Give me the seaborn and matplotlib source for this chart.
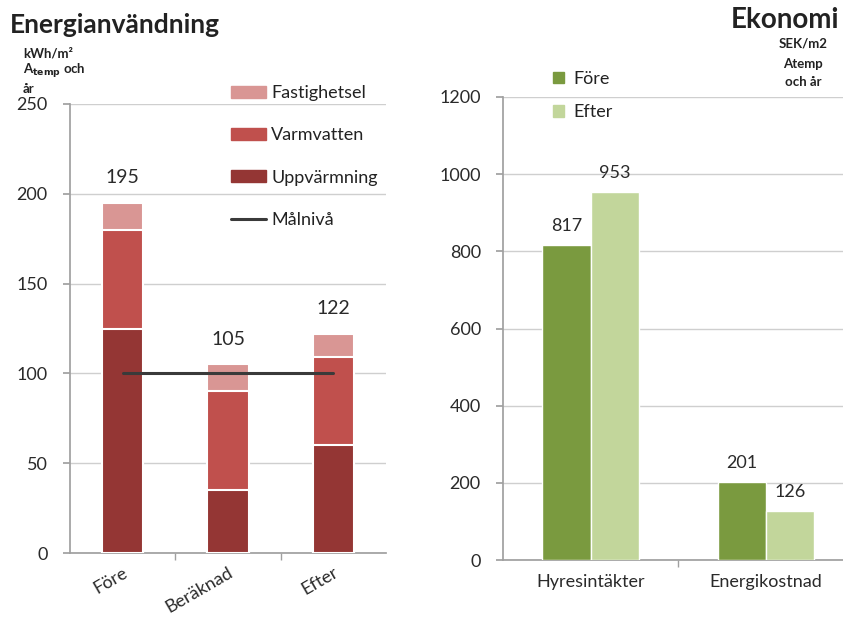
import numpy as np
import pandas as pd
import matplotlib.pyplot as plt
from matplotlib.patches import Patch
from matplotlib.lines import Line2D
import seaborn as sns

# Energianvändning (kWh/m2 Atemp och år)
kategorier = ['Före', 'Beräknad', 'Efter']
uppvarmning = [125, 35, 60]
varmvatten = [55, 55, 49]
fastighetsel = [15, 15, 13]
totalt = [195, 105, 122]
malniva = [100, 100, 100]

# Ekonomi (SEK/m2 Atemp och år)
poster = ['Hyresintäkter', 'Energikostnad']
fore = [817, 201]
efter = [953, 126]

sns.set_theme(style='white')
plt.rcParams['font.family'] = ['Lato', 'DejaVu Sans']
plt.rcParams['text.color'] = '#222222'

c_upp = '#943634'
c_varm = '#C0504D'
c_el = '#D99694'
c_fore = '#7A9A3F'
c_efter = '#C2D69B'
grid_c = '#cfcfcf'
spine_c = '#a0a0a0'
txt_c = '#2a2a2a'

fig = plt.figure(figsize=(8.43, 6.19), dpi=100)
ax1 = fig.add_axes([0.083, 0.1066, 0.375, 0.7254])
ax2 = fig.add_axes([0.5967, 0.0953, 0.4033, 0.748])

# stacked bars drawn back to front
tot_cum = np.array(uppvarmning) + np.array(varmvatten) + np.array(fastighetsel)
mid_cum = np.array(uppvarmning) + np.array(varmvatten)
for vals, col in [(tot_cum, c_el), (mid_cum, c_varm), (uppvarmning, c_upp)]:
    sns.barplot(x=kategorier, y=vals, color=col, saturation=1, width=0.39,
                edgecolor='white', linewidth=1.5, ax=ax1, zorder=3)
sns.lineplot(x=kategorier, y=malniva, color='#3a3a3a', linewidth=2.2, ax=ax1, zorder=4)

for i, v in enumerate(totalt):
    ax1.annotate(str(v), (i, v), xytext=(0, 12), textcoords='offset points',
                 ha='center', va='bottom', fontsize=14, color=txt_c)

ax1.set_ylim(0, 250)
ax1.set_xlim(-0.5, 2.5)
ax1.set_yticks(range(0, 251, 50))
ax1.yaxis.grid(True, color=grid_c, linewidth=1)
ax1.set_axisbelow(True)
ax1.set_xticks(range(3))
ax1.set_xticklabels(kategorier, rotation=30, ha='right', rotation_mode='anchor', fontsize=13)
ax1.set_xticks([0.5, 1.5], minor=True)
ax1.tick_params(axis='x', which='major', length=0, pad=8, labelcolor=txt_c)
ax1.tick_params(axis='x', which='minor', length=5, color=spine_c, direction='out', bottom=True)
ax1.tick_params(axis='y', length=5, color=spine_c, direction='out', left=True,
                labelsize=13, pad=11, labelcolor=txt_c)
ax1.set_xlabel('')
ax1.set_ylabel('')
for s in ['top', 'right']:
    ax1.spines[s].set_visible(False)
for s in ['left', 'bottom']:
    ax1.spines[s].set_color(spine_c)

h1 = [Patch(color=c_el), Patch(color=c_varm), Patch(color=c_upp),
      Line2D([0], [0], color='#3a3a3a', linewidth=2.2)]
l1 = ['Fastighetsel', 'Varmvatten', 'Uppvärmning', 'Målnivå']
fig.legend(h1, l1, loc='upper left', bbox_to_anchor=(0.266, 0.874), frameon=False,
           fontsize=13, labelspacing=1.45, handlelength=1.9, handleheight=0.6,
           handletextpad=0.3, borderaxespad=0)

fig.text(0.012, 0.96, 'Energianvändning', fontsize=19, fontweight='bold', va='center')
fig.text(0.027, 0.914, 'kWh/m²', fontsize=9.5, fontweight='bold', va='center')
fig.text(0.027, 0.885, r'A$_{\mathbf{temp}}$ och', fontsize=9.5, fontweight='bold', va='center')
fig.text(0.027, 0.857, 'år', fontsize=9.5, fontweight='bold', va='center')

# Ekonomi
df = pd.DataFrame({
    'post': poster * 2,
    'varde': fore + efter,
    'tid': ['Före'] * len(poster) + ['Efter'] * len(poster),
})
sns.barplot(data=df, x='post', y='varde', hue='tid', palette=[c_fore, c_efter],
            saturation=1, width=0.55, edgecolor='white', linewidth=1, ax=ax2,
            legend=False, zorder=3)
for cont, vals in zip(ax2.containers, [fore, efter]):
    ax2.bar_label(cont, labels=[str(v) for v in vals], padding=8, fontsize=13, color=txt_c)

ax2.set_ylim(0, 1200)
ax2.set_xlim(-0.5, 1.44)
ax2.set_yticks(range(0, 1201, 200))
ax2.yaxis.grid(True, color=grid_c, linewidth=1)
ax2.set_axisbelow(True)
ax2.set_xticks([0.5], minor=True)
ax2.tick_params(axis='x', which='major', length=0, pad=10, labelsize=13, labelcolor=txt_c)
ax2.tick_params(axis='x', which='minor', length=5, color=spine_c, direction='out', bottom=True)
ax2.tick_params(axis='y', length=5, color=spine_c, direction='out', left=True,
                labelsize=13, pad=11, labelcolor=txt_c)
ax2.set_xlabel('')
ax2.set_ylabel('')
for s in ['top', 'right']:
    ax2.spines[s].set_visible(False)
for s in ['left', 'bottom']:
    ax2.spines[s].set_color(spine_c)

h2 = [Patch(color=c_fore), Patch(color=c_efter)]
fig.legend(h2, ['Före', 'Efter'], loc='upper left', bbox_to_anchor=(0.648, 0.897),
           frameon=False, fontsize=13, labelspacing=0.95, handlelength=0.6,
           handleheight=0.6, handletextpad=0.5, borderaxespad=0)

fig.text(0.995, 0.968, 'Ekonomi', fontsize=20, fontweight='bold', ha='right', va='center')
fig.text(0.953, 0.929, 'SEK/m2', fontsize=9.5, fontweight='bold', ha='center', va='center')
fig.text(0.953, 0.897, 'Atemp', fontsize=9.5, fontweight='bold', ha='center', va='center')
fig.text(0.953, 0.868, 'och år', fontsize=9.5, fontweight='bold', ha='center', va='center')

fig.savefig('out.png', dpi=100)
